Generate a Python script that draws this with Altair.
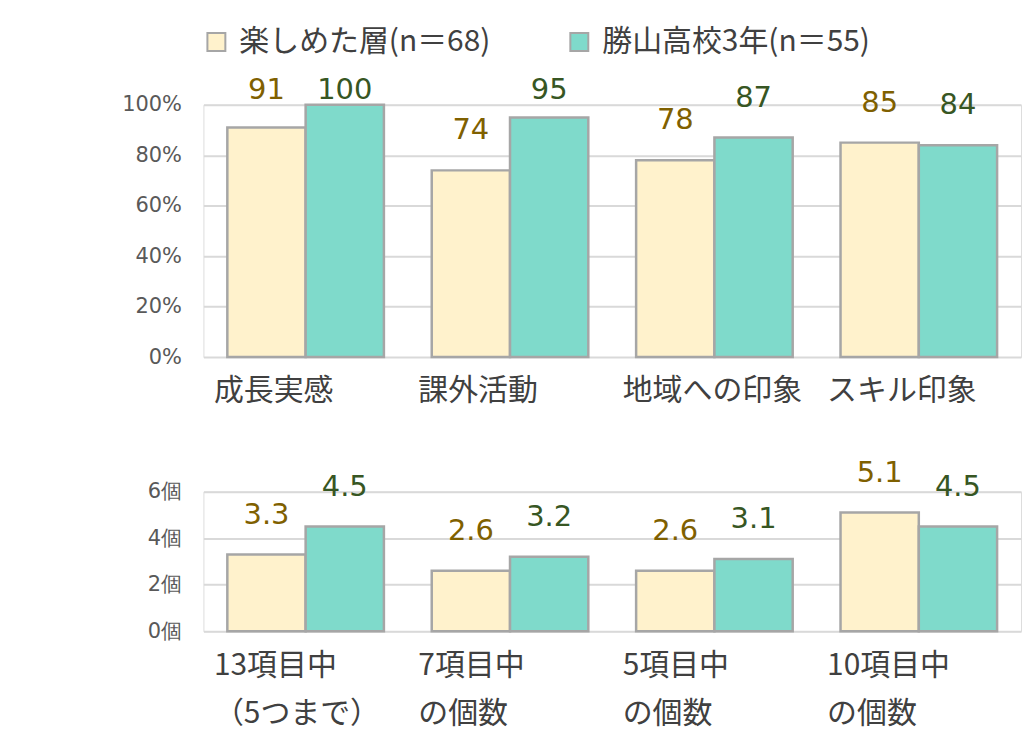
import altair as alt
import pandas as pd

series = ["楽しめた層(n＝68)", "勝山高校3年(n＝55)"]
top_cats = ["成長実感", "課外活動", "地域への印象", "スキル印象"]
top_a = [91, 100, 74, 95, 78, 87, 85, 84]
bot_cats = ["13項目中\n（5つまで）", "7項目中\nの個数", "5項目中\nの個数", "10項目中\nの個数"]
bot_a = [3.3, 4.5, 2.6, 3.2, 2.6, 3.1, 5.1, 4.5]

def make_df(cats, vals):
    rows = []
    for i, c in enumerate(cats):
        for j, s in enumerate(series):
            rows.append({"cat": c, "series": s, "value": vals[i * 2 + j]})
    return pd.DataFrame(rows)

df_top = make_df(top_cats, top_a)
df_bot = make_df(bot_cats, bot_a)

FONT = "Noto Sans CJK JP"
NUMFONT = "DejaVu Sans"
fill_colors = ["#FFF2CC", "#7FDACB"]
label_colors = ["#7F6000", "#375623"]

color_scale = alt.Scale(domain=series, range=fill_colors)
label_scale = alt.Scale(domain=series, range=label_colors)

def panel(df, cats, ymax, ystep, suffix, h, label_cap, fmt, legend):
    x = alt.X("cat:N", sort=cats, title=None,
              scale=alt.Scale(paddingInner=0.234, paddingOuter=0.117),
              axis=alt.Axis(labelAngle=0, labelAlign="left", labelOffset=-92,
                            labelBaseline="middle",
                            labelPadding=34, labelFontSize=30, labelColor="#404040",
                            labelFont=FONT, labelLineHeight=49,
                            labelExpr="split(datum.label, '\\n')",
                            ticks=False, domain=False, grid=False))
    xo = alt.XOffset("series:N", sort=series,
                     scale=alt.Scale(paddingInner=0, paddingOuter=0))
    y = alt.Y("value:Q", title=None,
              scale=alt.Scale(domain=[0, ymax], nice=False),
              axis=alt.Axis(values=list(range(0, ymax + 1, ystep)),
                            labelExpr=f"datum.value + '{suffix}'",
                            labelFontSize=21, labelColor="#595959", labelFont=NUMFONT,
                            labelPadding=22, ticks=False, domain=False,
                            gridColor="#D9D9D9", gridWidth=2, minExtent=190))
    leg = alt.Legend(title=None, orient="none", legendX=-2, legendY=-78,
                     direction="horizontal", symbolType="square", symbolSize=324,
                     symbolStrokeColor="#A6A6A6", symbolStrokeWidth=2,
                     labelFontSize=30, labelFont=FONT, labelColor="#404040",
                     labelLimit=0, columnPadding=74, labelOffset=8)
    color_kwargs = dict(sort=series, scale=color_scale)
    color_kwargs["legend"] = leg if legend else None
    bars = alt.Chart(df).mark_bar(stroke="#A6A6A6", strokeWidth=2.5).encode(
        x=x, xOffset=xo, y=y,
        color=alt.Color("series:N", **color_kwargs),
    )
    text = alt.Chart(df).transform_calculate(
        ypos=f"min(datum.value, {label_cap})"
    ).mark_text(fontSize=29, font=NUMFONT, dy=-40, baseline="middle").encode(
        x=alt.X("cat:N", sort=cats),
        xOffset=alt.XOffset("series:N", sort=series),
        y=alt.Y("ypos:Q"),
        text=alt.Text("value:Q", format=fmt),
        color=alt.Color("series:N", sort=series, scale=label_scale, legend=None),
    )
    return alt.layer(bars, text).resolve_scale(color="independent").properties(width=820, height=h)

top = panel(df_top, top_cats, 100, 20, "%", 253, 90, "d", True)
bot = panel(df_bot, bot_cats, 6, 2, "個", 140, 100, ".1f", False)

chart = alt.vconcat(top, bot, spacing=51).properties(
    padding={"top": 17, "left": 5, "right": 0, "bottom": 5}
).configure_view(stroke=None).configure(font=FONT)

chart.save("out.html", embed_options={"renderer": "svg", "actions": False})
